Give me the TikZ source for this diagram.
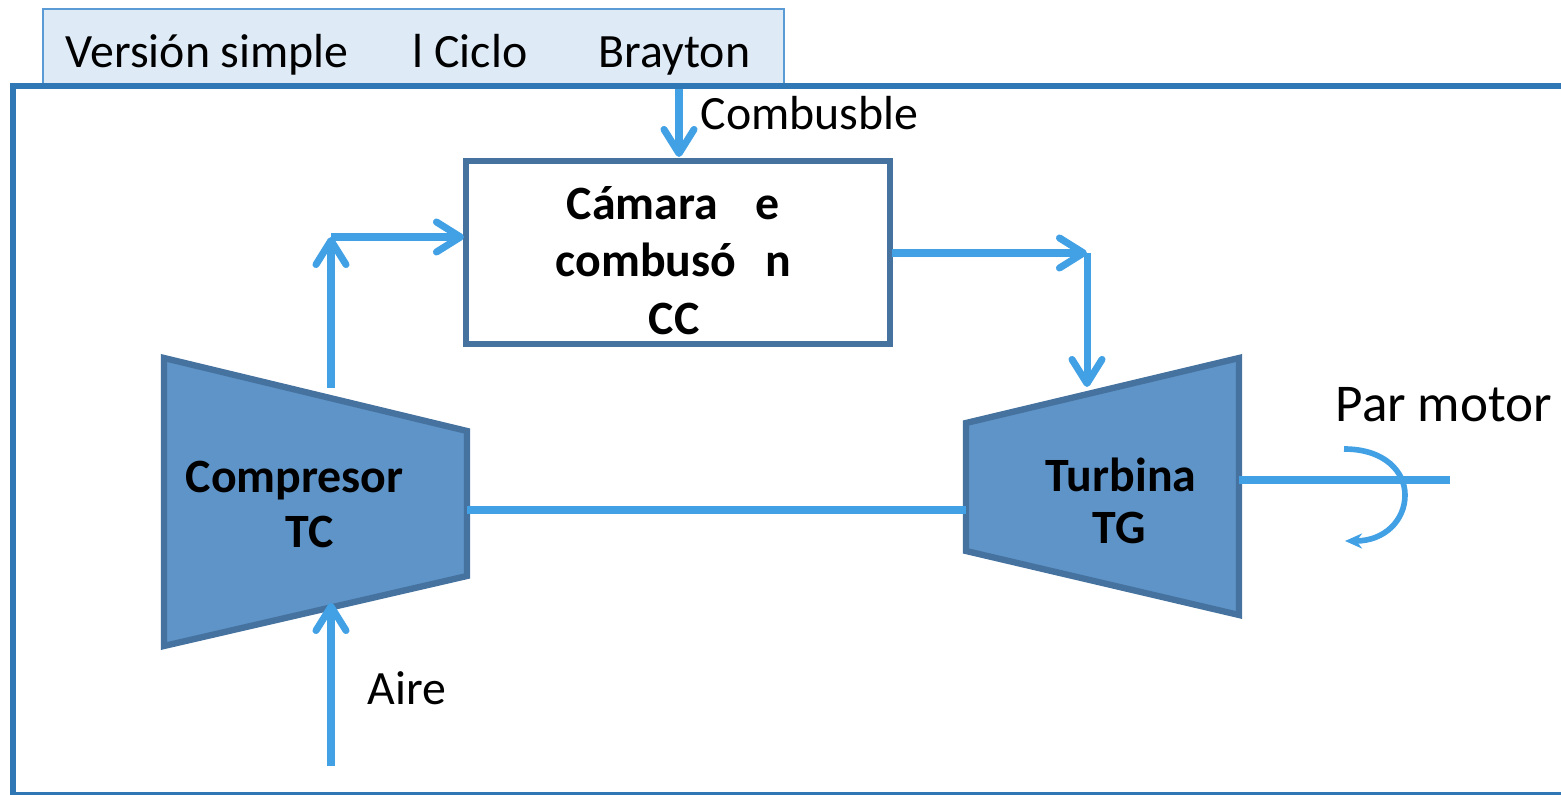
\documentclass[tikz,border=0pt]{standalone}
\usepackage{fontspec}
\setmainfont{Carlito}
\usetikzlibrary{arrows.meta}
\definecolor{flow}{HTML}{42A0E5}
\definecolor{framecol}{HTML}{2F77B5}
\definecolor{titlefill}{HTML}{DEEBF7}
\definecolor{titleline}{HTML}{5B9BD5}
\definecolor{boxline}{HTML}{45729F}
\definecolor{machfill}{HTML}{5F94C8}
\begin{document}
\begin{tikzpicture}[x=0.01cm,y=-0.01cm,
  flowline/.style={draw=flow,line width=2pt},
  flowarrow/.style={flowline,-{Straight Barb[round,length=0.24cm,width=0.3cm]}},
  turnarrow/.style={draw=flow,line width=1.6pt,-{Stealth[length=0.17cm,width=0.15cm]}},
  machine/.style={draw=boxline,fill=machfill,line width=1.8pt,line join=miter},
  ccbox/.style={draw=boxline,fill=white,line width=1.8pt},
  txt/.style={inner sep=0pt,anchor=base west,font=\fontsize{13.6pt}{16pt}\selectfont},
  btxt/.style={txt,font=\fontsize{13.6pt}{16pt}\selectfont\bfseries},
  bigtxt/.style={txt,font=\fontsize{15.1pt}{18pt}\selectfont}]
\useasboundingbox (0,0) rectangle (1561,795);
\clip (0,0) rectangle (1561,795);
% title tab
\draw[draw=titleline,fill=titlefill,line width=0.6pt] (43,9) rectangle (784,84);
\node[txt] (t1) at (65,68) {Versión simple};
\node[txt] (t2) at (412,68) {l Ciclo};
\node[txt] (t3) at (598,68) {Brayton};
% frame
\draw[draw=framecol,line width=1.7pt] (13,86) rectangle (1575,795);
% coordinates
\coordinate (fuelTop) at (679,89);
\coordinate (ccTop) at (679,157);
\coordinate (compOut) at (331,388);
\coordinate (cCorner) at (331,237);
\coordinate (ccIn) at (464,237);
\coordinate (ccOut) at (892,253);
\coordinate (tCorner) at (1087,253);
\coordinate (turbIn) at (1087,387);
\coordinate (airIn) at (331,766);
\coordinate (compIn) at (331,603);
\coordinate (compShaft) at (467,510);
\coordinate (turbShaft) at (966,510);
\coordinate (turbOut) at (1239,480);
\coordinate (shaftEnd) at (1450,480);
\coordinate (rotStart) at (1344,449);
\coordinate (rotMid) at (1405,495);
\coordinate (rotEnd) at (1345,541);
% combustion chamber
\draw[ccbox] (466,161) rectangle (890,344);
\node[btxt] (cc1a) at (566,220) {Cámara};
\node[btxt] (cc1b) at (755,220) {e};
\node[btxt] (cc2a) at (555,277) {combusó};
\node[btxt] (cc2b) at (765,277) {n};
\node[btxt] (cc3) at (648,335) {CC};
% compressor
\draw[machine] (164,358) -- (467,431) -- (467,576) -- (164,646) -- cycle;
\node[btxt] (comp1) at (185,493) {Compresor};
\node[btxt] (comp2) at (285,548) {TC};
% turbine
\draw[machine] (966,423) -- (1239,358) -- (1239,615) -- (966,551) -- cycle;
\node[btxt] (turb1) at (1045,492) {Turbina};
\node[btxt] (turb2) at (1092,544) {TG};
% labels
\node[txt] (fuel) at (700,130) {Combusble};
\node[txt] (air) at (367,705) {Aire};
\node[bigtxt] (par) at (1335,422) {Par motor};
% connectors
\draw[flowarrow] (fuelTop) -- (ccTop);
\draw[flowarrow] (compOut) -- (cCorner);
\draw[flowarrow] (cCorner) -- (ccIn);
\draw[flowarrow] (ccOut) -- (tCorner);
\draw[flowarrow] (tCorner) -- (turbIn);
\draw[flowarrow] (airIn) -- (compIn);
\draw[flowline] (compShaft) -- (turbShaft);
\draw[flowline] (turbOut) -- (shaftEnd);
\draw[turnarrow] (rotStart) .. controls (1385,449) and (1405,472) .. (rotMid)
  .. controls (1405,520) and (1385,541) .. (rotEnd);
\end{tikzpicture}
\end{document}
